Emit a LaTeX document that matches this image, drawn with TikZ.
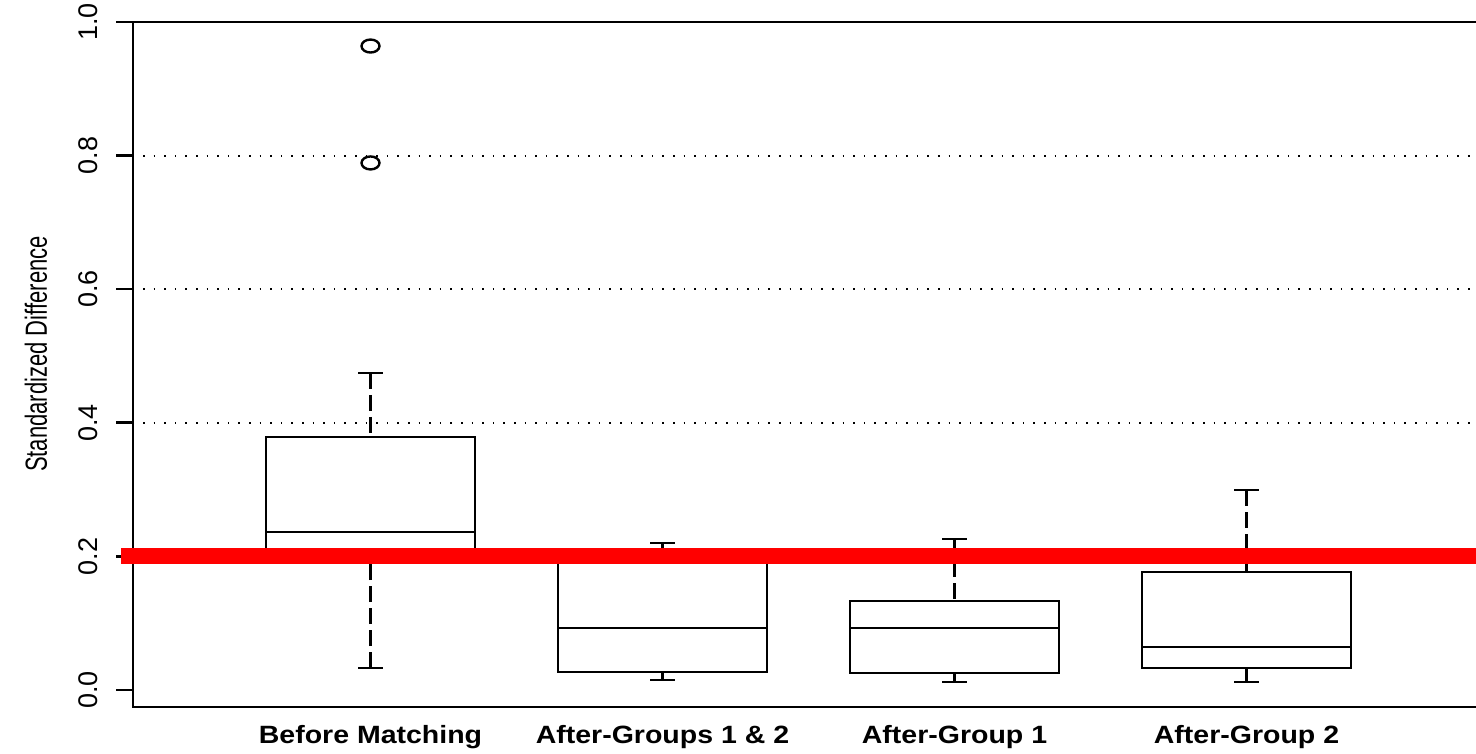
\documentclass[tikz,border=0pt]{standalone}
\usepackage{fontspec}
\setmainfont{Liberation Sans}
\begin{document}
\begin{tikzpicture}[x=0.5pt,y=0.5pt,
  frame/.style={line width=1.3pt},
  boxline/.style={line width=1.2pt},
  whisker/.style={line width=1.2pt,dash pattern=on 8pt off 3pt},
  gridline/.style={line width=1pt,dash pattern=on 0.8pt off 4.5pt},
  cutoff/.style={line width=8pt,red},
  ticklab/.style={rotate=90,font=\fontsize{13.5}{15}\selectfont},
  grouplab/.style={anchor=base,font=\bfseries\fontsize{12.5}{14}\selectfont}]
\useasboundingbox (0,0) rectangle (1476,754);
\begin{scope}[yshift=32pt,y=334pt]
% plot frame and y axis
\draw[frame] (1476,1) -- (133,1) -- (133,-0.0254) -- (1476,-0.0254);
\draw[frame] (116,0) -- (133,0);
\draw[frame] (116,0.2) -- (133,0.2);
\draw[frame] (116,0.4) -- (133,0.4);
\draw[frame] (116,0.6) -- (133,0.6);
\draw[frame] (116,0.8) -- (133,0.8);
\draw[frame] (116,1) -- (133,1);
\node[ticklab] (tzero) at (88,0) {0.0};
\node[ticklab] (ttwo) at (88,0.2) {0.2};
\node[ticklab] (tfour) at (88,0.4) {0.4};
\node[ticklab] (tsix) at (88,0.6) {0.6};
\node[ticklab] (teight) at (88,0.8) {0.8};
\node[ticklab] (tone) at (88,1) {1.0};
\node[rotate=90,font=\fontsize{11}{13}\selectfont] (ylab) at (36,0.503)
  {\scalebox{1}[1.39]{Standardized Difference}};
% grid
\draw[gridline] (143,0.4) -- (1476,0.4);
\draw[gridline] (143,0.6) -- (1476,0.6);
\draw[gridline] (143,0.8) -- (1476,0.8);
% before matching
\draw[boxline] (266,0.205) rectangle (475,0.3787);
\draw[boxline] (266,0.2365) -- (475,0.2365);
\draw[whisker] (370.5,0.4746) -- (370.5,0.3787);
\draw[whisker] (370.5,0.0329) -- (370.5,0.205);
\draw[boxline] (358,0.4746) -- (383,0.4746);
\draw[boxline] (358,0.0329) -- (383,0.0329);
\draw[boxline] (370.5,0.964) ellipse [x radius=4.5pt, y radius=3.25pt];
\draw[boxline] (370.5,0.789) ellipse [x radius=4.5pt, y radius=3.25pt];
% after groups 1 & 2
\draw[boxline] (558,0.0269) rectangle (767,0.195);
\draw[boxline] (558,0.0928) -- (767,0.0928);
\draw[whisker] (662.5,0.22) -- (662.5,0.195);
\draw[whisker] (662.5,0.015) -- (662.5,0.0269);
\draw[boxline] (650,0.22) -- (675,0.22);
\draw[boxline] (650,0.015) -- (675,0.015);
% after group 1
\draw[boxline] (850,0.0254) rectangle (1059,0.1332);
\draw[boxline] (850,0.0928) -- (1059,0.0928);
\draw[whisker] (954.5,0.226) -- (954.5,0.1332);
\draw[whisker] (954.5,0.012) -- (954.5,0.0254);
\draw[boxline] (942,0.226) -- (967,0.226);
\draw[boxline] (942,0.012) -- (967,0.012);
% after group 2
\draw[boxline] (1142,0.033) rectangle (1351,0.1766);
\draw[boxline] (1142,0.0644) -- (1351,0.0644);
\draw[whisker] (1246.5,0.2994) -- (1246.5,0.1766);
\draw[whisker] (1246.5,0.012) -- (1246.5,0.033);
\draw[boxline] (1234,0.2994) -- (1259,0.2994);
\draw[boxline] (1234,0.012) -- (1259,0.012);
% threshold
\draw[cutoff] (121,0.2) -- (1476,0.2);
% group labels
\node[grouplab] (lbefore) at (370.5,-0.0808) {\scalebox{1.14}[1]{Before Matching}};
\node[grouplab] (lboth) at (662.5,-0.0808) {\scalebox{1.14}[1]{After-Groups 1 \& 2}};
\node[grouplab] (lgone) at (954.5,-0.0808) {\scalebox{1.14}[1]{After-Group 1}};
\node[grouplab] (lgtwo) at (1246.5,-0.0808) {\scalebox{1.14}[1]{After-Group 2}};
\end{scope}
\end{tikzpicture}
\end{document}
